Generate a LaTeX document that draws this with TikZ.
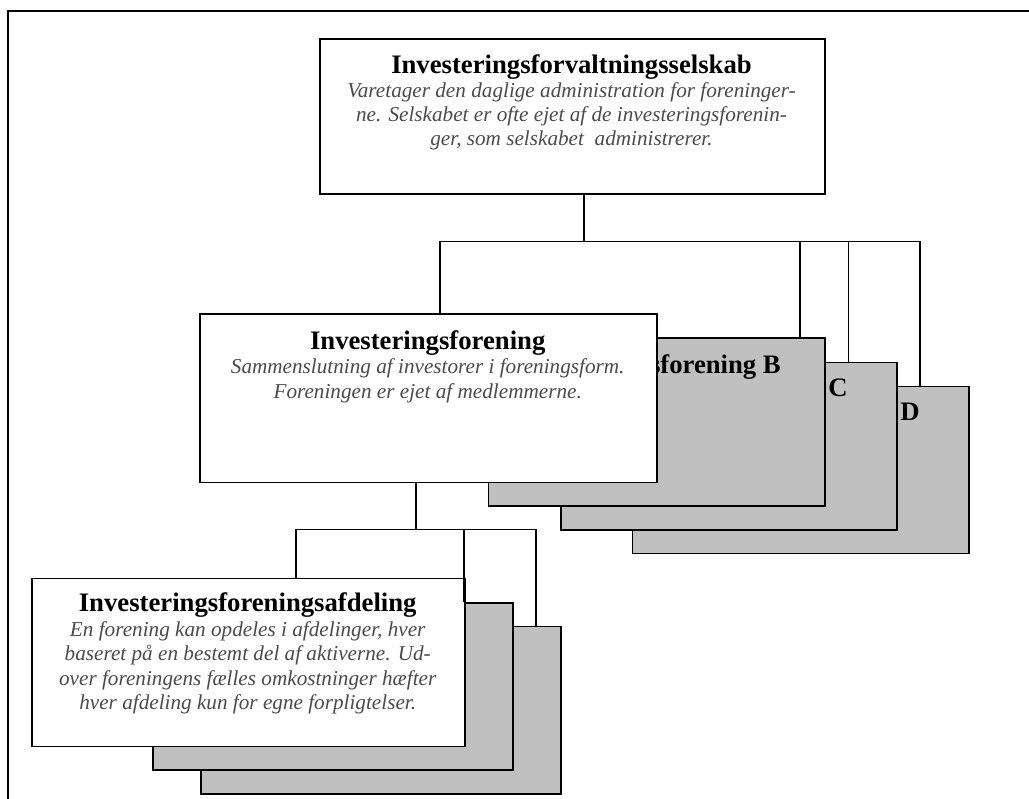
\documentclass[tikz,border=0pt]{standalone}
\usepackage{fontspec}
\setmainfont{Liberation Serif}
\definecolor{boxgray}{RGB}{192,192,192}
\definecolor{txtgray}{RGB}{75,75,75}
\tikzset{
  box/.style={draw=black, line width=1.7pt, fill=white, inner sep=0pt, anchor=north west},
  backbox/.style={box, fill=boxgray},
  conn/.style={draw=black, line width=1.5pt},
  ttl/.style={inner sep=0pt, anchor=base, font=\fontsize{26.7}{30}\selectfont\bfseries},
  bttl/.style={inner sep=0pt, anchor=base east, font=\fontsize{26.7}{30}\selectfont\bfseries},
  itl/.style={inner sep=0pt, anchor=base, text=txtgray, font=\fontsize{21.2}{24.3}\selectfont\itshape}
}
\begin{document}
\begin{tikzpicture}[x=1pt,y=-1pt]
\useasboundingbox (0,0) rectangle (1029,799);
% outer frame
\draw[line width=2pt] (7.5,800) -- (7.5,11) -- (1030,11);

% ---- boxes (back to front) ----
\node[box, minimum width=505pt, minimum height=155pt] (top) at (319,38.3) {};

\node[backbox, minimum width=336.6pt, minimum height=167pt] (D) at (631.7,385.7) {};
\node[bttl] (tD) at (920,420.7) {Investeringsforening D};
\node[backbox, minimum width=336pt, minimum height=167.6pt] (C) at (560,361.7) {};
\node[bttl] (tC) at (848,396.7) {Investeringsforening C};
\node[backbox, minimum width=336.3pt, minimum height=167.7pt] (B) at (487.7,337.3) {};
\node[bttl] (tB) at (781,373.3) {Investeringsforening B};
\node[box, minimum width=456.7pt, minimum height=168.4pt] (A) at (199.3,313.3) {};

\node[backbox, minimum width=360pt, minimum height=167.3pt] (F3) at (200,625.7) {};
\node[backbox, minimum width=360pt, minimum height=167pt] (F2) at (152,602) {};
\node[box, minimum width=432.6pt, minimum height=168pt] (F1) at (31.4,577.7) {};

% ---- connectors ----
\coordinate (bus) at (584,241.5);
\coordinate (ta) at (440,241.5);
\coordinate (tb) at (800,241.5);
\coordinate (tc) at (848.3,241.5);
\coordinate (td) at (920,241.5);
\draw[conn] (top.south -| bus) -- (bus);
\draw[conn] (ta) -- (td);
\draw[conn] (ta) -- (ta |- A.north);
\draw[conn] (tb) -- (tb |- B.north);
\draw[conn] (tc) -- (tc |- C.north);
\draw[conn] (td) -- (td |- D.north);

\coordinate (lb) at (416,529.3);
\coordinate (l1) at (296,529.3);
\coordinate (l2) at (464,529.3);
\coordinate (l3) at (536,529.3);
\draw[conn] (lb |- A.south) -- (lb);
\draw[conn] (l1) -- (l3);
\draw[conn] (l1) -- (l1 |- F1.north);
\draw[conn] (l2) -- (l2 |- F2.north);
\draw[conn] (l3) -- (l3 |- F3.north);

% ---- texts ----
\node[ttl] (t0) at (571.5,73.3) {Investeringsforvaltningsselskab};
\node[itl] (t01) at (571.5,98) {Varetager den daglige administration for foreninger-};
\node[itl] (t02) at (571.5,122) {ne. Selskabet er ofte ejet af de investeringsforenin-};
\node[itl] (t03) at (571.5,146) {ger, som selskabet~ administrerer.};

\node[ttl] (tA) at (427.7,350) {Investeringsforening};
\node[itl] (tA1) at (427.7,374) {Sammenslutning af investorer i foreningsform.};
\node[itl] (tA2) at (427.7,398.3) {Foreningen er ejet af medlemmerne.};

\node[ttl] (tF) at (247.7,611.7) {Investeringsforeningsafdeling};
\node[itl] (tF1) at (247.7,636.5) {En forening kan opdeles i afdelinger, hver};
\node[itl] (tF2) at (247.7,660.8) {baseret på en bestemt del af aktiverne. Ud-};
\node[itl] (tF3) at (247.7,685.1) {over foreningens fælles omkostninger hæfter};
\node[itl] (tF4) at (247.7,709.4) {hver afdeling kun for egne forpligtelser.};
\end{tikzpicture}
\end{document}
